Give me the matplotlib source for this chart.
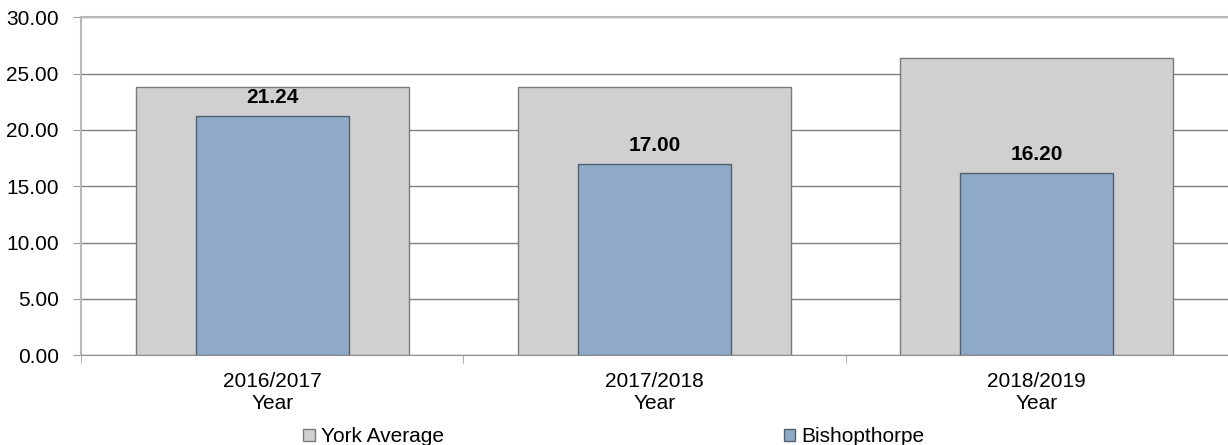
import numpy as np
import matplotlib.pyplot as plt
from matplotlib.patches import Patch

plt.rcParams['font.family'] = ['Liberation Sans', 'DejaVu Sans']

years = ['2016/2017\nYear', '2017/2018\nYear', '2018/2019\nYear']
york_avg = [23.80, 23.85, 26.37]
bishopthorpe = [21.24, 17.00, 16.20]

grey = '#d0d0d0'
blue = '#8eaac8'

fig = plt.figure(figsize=(12.28, 4.45), dpi=100)
ax = fig.add_axes([0.066, 0.202, 0.934, 0.759])

x = np.arange(len(years))
ax.bar(x, york_avg, width=0.714, color=grey, edgecolor='#7a7a7a', linewidth=1, zorder=2)
ax.bar(x, bishopthorpe, width=0.4, color=blue, edgecolor='#55606e', linewidth=1, zorder=3)

# value labels above the Bishopthorpe bars
for xi, v in zip(x, bishopthorpe):
    ax.text(xi, v + 1.15, '%.2f' % v, ha='center', va='baseline', fontsize=15, fontweight='bold', zorder=4)

ax.set_ylim(0, 30)
ax.set_xlim(-0.5, 2.5)
ax.set_yticks(np.arange(0, 31, 5))
ax.set_yticklabels(['%.2f' % t for t in np.arange(0, 31, 5)], fontsize=15)
ax.set_xticks(x)
ax.set_xticklabels(years, fontsize=15, linespacing=1.2)
ax.set_xticks([-0.5, 0.5, 1.5, 2.5], minor=True)
ax.tick_params(axis='x', which='major', length=0, pad=12)
ax.tick_params(axis='x', which='minor', length=6, color='#a0a0a0')
ax.tick_params(axis='y', length=6, color='#a0a0a0', pad=10)

ax.grid(axis='y', color='#808080', linewidth=1, zorder=1)
ax.set_axisbelow(True)
ax.spines['right'].set_visible(False)
ax.spines['top'].set_color('#b8b8b8')
ax.spines['top'].set_linewidth(1.5)
ax.spines['left'].set_color('#b8b8b8')
ax.spines['left'].set_linewidth(1.5)
ax.spines['bottom'].set_color('#909090')

handles = [Patch(facecolor=grey, edgecolor='#7a7a7a', label='York Average'),
           Patch(facecolor=blue, edgecolor='#55606e', label='Bishopthorpe')]
fig.legend(handles=handles, loc='lower center', bbox_to_anchor=(0.5, -0.045), ncol=2,
           frameon=False, fontsize=15, handlelength=0.55, handleheight=0.55,
           handletextpad=0.3, columnspacing=16.3)

fig.savefig('out.png', dpi=100)
